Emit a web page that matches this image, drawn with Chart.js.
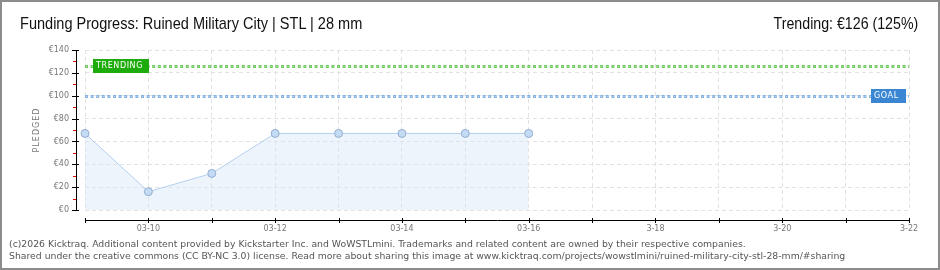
<!DOCTYPE html>
<html>
<head>
<meta charset="utf-8">
<script src="https://cdn.jsdelivr.net/npm/chart.js@4/dist/chart.umd.min.js"></script>
<style>
  body { margin: 0; background: #fff; }
  #wrap { position: relative; width: 940px; height: 270px; overflow: hidden; }
  #frame { position: absolute; left: 0; top: 0; width: 940px; height: 270px; box-sizing: border-box; border: 2px solid #8c8c8c; pointer-events: none; }
  #chart { position: absolute; left: 0; top: 0; }
  .txt { position: absolute; white-space: nowrap; }
  #title { left: 20px; top: 14px; font: 17px "Liberation Sans", sans-serif; color: #111; transform: scaleX(0.855); transform-origin: left top; }
  #trend { right: 22px; top: 14px; font: 17px "Liberation Sans", sans-serif; color: #111; transform: scaleX(0.835); transform-origin: right top; }
  .foot { left: 9px; font: 9.3px "DejaVu Sans", sans-serif; color: #555; }
  #foot1 { top: 238px; }
  #foot2 { top: 250px; }
</style>
</head>
<body>
<div id="wrap">
  <canvas id="chart" width="940" height="270"></canvas>
  <div class="txt" id="title">Funding Progress: Ruined Military City | STL | 28 mm</div>
  <div class="txt" id="trend">Trending: €126 (125%)</div>
  <div class="txt foot" id="foot1">(c)2026 Kicktraq. Additional content provided by Kickstarter Inc. and WoWSTLmini. Trademarks and related content are owned by their respective companies.</div>
  <div class="txt foot" id="foot2">Shared under the creative commons (CC BY-NC 3.0) license. Read more about sharing this image at www.kicktraq.com/projects/wowstlmini/ruined-military-city-stl-28-mm/#sharing</div>
  <div id="frame"></div>
</div>
<script>
// days on the x axis (labels as printed on the chart)
const days = ['03-09', '03-10', '03-11', '03-12', '03-13', '03-14', '03-15', '03-16',
              '3-17', '3-18', '3-19', '3-20', '3-21', '3-22'];
// pledged total per day (EUR)
const pledged = [67, 16, 32, 67, 67, 67, 67, 67];
const GOAL = 100;
const TRENDING = 126;
const yTicks = [0, 20, 40, 60, 80, 100, 120, 140];

// axis lines, ticks, goal / trending lines and their labels
const extras = {
    id: 'extras',
    beforeDatasetsDraw(chart) {
        const ctx = chart.ctx;
        const area = chart.chartArea;
        const y = chart.scales.y;
        ctx.save();
        drawDotted(ctx, area, Math.round(y.getPixelForValue(TRENDING)), '#6fcb5f', '#b3e6a8');
        drawDotted(ctx, area, Math.round(y.getPixelForValue(GOAL)), '#86b3e4', '#c0d9f4');
        ctx.restore();
    },
    afterDraw(chart) {
        const ctx = chart.ctx;
        const area = chart.chartArea;
        const x = chart.scales.x;
        const y = chart.scales.y;
        ctx.save();
        // y axis
        const ax = 76.5;
        ctx.strokeStyle = '#000';
        ctx.lineWidth = 1;
        ctx.beginPath();
        ctx.moveTo(ax, area.top);
        ctx.lineTo(ax, area.bottom);
        ctx.stroke();
        for (let v = 0; v <= 140; v += 10) {
            const py = Math.round(y.getPixelForValue(v)) + 0.5;
            ctx.strokeStyle = v % 20 == 0 ? '#000' : '#e00';
            ctx.beginPath();
            if (v % 20 == 0) {
                ctx.moveTo(72, py);
                ctx.lineTo(79, py);
            } else {
                ctx.moveTo(73, py);
                ctx.lineTo(76, py);
            }
            ctx.stroke();
        }
        // x axis
        const ay = 220.5;
        ctx.strokeStyle = '#000';
        ctx.beginPath();
        ctx.moveTo(area.left, ay);
        ctx.lineTo(area.right + 1, ay);
        ctx.stroke();
        for (let i = 0; i < days.length; i++) {
            const px = Math.round(x.getPixelForValue(i)) + 0.5;
            ctx.beginPath();
            ctx.moveTo(px, 218);
            ctx.lineTo(px, 223);
            ctx.stroke();
        }
        // PLEDGED label
        ctx.translate(37, (area.top + area.bottom) / 2);
        ctx.rotate(-Math.PI / 2);
        ctx.fillStyle = '#777';
        ctx.font = '8px "DejaVu Sans", sans-serif';
        ctx.textAlign = 'center';
        ctx.textBaseline = 'middle';
        ctx.letterSpacing = '1px';
        ctx.fillText('PLEDGED', 0, 0);
        ctx.restore();

        ctx.save();
        tag(ctx, 'TRENDING', 93, y.getPixelForValue(TRENDING), 56, '#1eac0c');
        tag(ctx, 'GOAL', 871, y.getPixelForValue(GOAL), 35, '#3a86d2');
        ctx.restore();
    }
};

function drawDotted(ctx, area, py, outer, inner) {
    ctx.lineWidth = 3;
    ctx.strokeStyle = outer;
    ctx.setLineDash([3, 2.6]);
    ctx.beginPath();
    ctx.moveTo(area.left, py + 0.5);
    ctx.lineTo(area.right, py + 0.5);
    ctx.stroke();
    ctx.lineWidth = 1;
    ctx.strokeStyle = inner;
    ctx.setLineDash([1, 4.6]);
    ctx.lineDashOffset = -1;
    ctx.beginPath();
    ctx.moveTo(area.left, py + 0.5);
    ctx.lineTo(area.right, py + 0.5);
    ctx.stroke();
    ctx.setLineDash([]);
    ctx.lineDashOffset = 0;
}

function tag(ctx, text, left, py, w, color) {
    ctx.fillStyle = color;
    ctx.fillRect(left, Math.round(py) - 7, w, 14);
    ctx.fillStyle = '#fff';
    ctx.font = '8px "DejaVu Sans", sans-serif';
    ctx.textBaseline = 'middle';
    ctx.textAlign = 'left';
    ctx.letterSpacing = '0.6px';
    ctx.fillText(text, left + 3, Math.round(py));
}

new Chart(document.getElementById('chart'), {
    type: 'line',
    data: {
        labels: days,
        datasets: [{
            label: 'Pledged',
            data: pledged,
            borderColor: '#b3cfee',
            borderWidth: 1,
            backgroundColor: 'rgba(214,230,248,0.45)',
            fill: 'origin',
            tension: 0,
            pointRadius: 4,
            pointBackgroundColor: '#c3dbf5',
            pointBorderColor: '#93adcd',
            pointBorderWidth: 1
        }]
    },
    options: {
        responsive: false,
        animation: false,
        layout: { padding: { top: 50, right: 31, left: 0, bottom: 0 } },
        plugins: { legend: { display: false }, tooltip: { enabled: false } },
        scales: {
            x: {
                offset: false,
                afterFit(s) { s.height = 60; },
                border: { display: false, dash: [4, 3] },
                grid: { color: '#e2e2e2', drawTicks: false },
                ticks: {
                    autoSkip: false,
                    maxRotation: 0,
                    padding: 14,
                    color: '#777',
                    font: { family: '"DejaVu Sans", sans-serif', size: 8 },
                    callback: (v, i) => (i % 2 == 1 ? days[i] : '')
                }
            },
            y: {
                min: 0,
                max: 140,
                afterFit(s) { s.width = 85; },
                afterBuildTicks(s) { s.ticks = yTicks.map(v => ({ value: v })); },
                border: { display: false, dash: [4, 3] },
                grid: { color: '#e2e2e2', drawTicks: false },
                ticks: {
                    padding: 16,
                    color: '#777',
                    font: { family: '"DejaVu Sans", sans-serif', size: 8 },
                    callback: v => '€' + v
                }
            }
        }
    },
    plugins: [extras]
});
</script>
</body>
</html>
